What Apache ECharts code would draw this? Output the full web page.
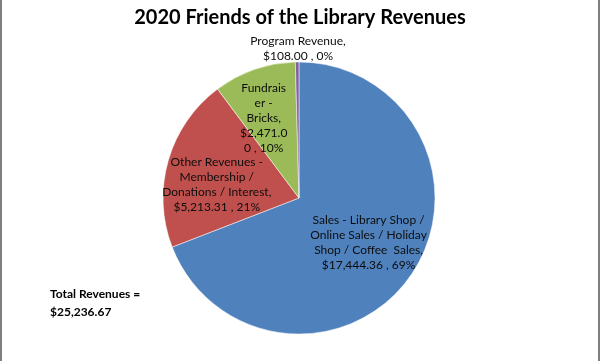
<!DOCTYPE html>
<html><head><meta charset="utf-8">
<script src="https://cdn.jsdelivr.net/npm/echarts@6/dist/echarts.min.js"></script>
<style>html,body{margin:0;padding:0;background:#fff}#c{width:600px;height:361px}</style>
</head><body><div id="c"></div>
<script>
var categories = ['Sales - Library Shop / Online Sales / Holiday Shop / Coffee  Sales',
  'Other Revenues - Membership / Donations / Interest',
  'Fundraiser - Bricks',
  'Program Revenue'];
var values = [17444.36, 5213.31, 2471.00, 108.00];
var percents = ['69%', '21%', '10%', '0%'];
var labelTexts = [
  'Sales - Library Shop /\nOnline Sales / Holiday\nShop / Coffee  Sales,\n$17,444.36 , 69%',
  'Other Revenues -\nMembership /\nDonations / Interest,\n$5,213.31 , 21%',
  'Fundrais\ner -\nBricks,\n$2,471.0\n0 , 10%',
  'Program Revenue,\n$108.00 , 0%'
];
var colors = ['#4F81BD', '#C0504D', '#9BBB59', '#8064A2'];
var totalText = 'Total Revenues =\n$25,236.67';
var labelShift = [[11, 4], [-14, 6], [-12, -13], [0, -78]];

var chart = echarts.init(document.getElementById('c'), null, {renderer: 'canvas'});
var FONT = 'Lato, "Open Sans", sans-serif';
chart.setOption({
  animation: false,
  title: [{
    text: '2020 Friends of the Library Revenues',
    left: 'center', top: 3,
    textStyle: {fontFamily: FONT, fontSize: 20, fontWeight: 'bold', color: '#000'}
  }, {
    text: totalText,
    left: 50, top: 285, padding: 0,
    textStyle: {fontFamily: FONT, fontSize: 12, fontWeight: 'bold', color: '#000', lineHeight: 18}
  }],
  graphic: [
    {type: 'rect', shape: {x: 0, y: 0, width: 2, height: 361}, style: {fill: '#7f7f7f'}},
    {type: 'rect', shape: {x: 598, y: 0, width: 2, height: 361}, style: {fill: '#7f7f7f'}}
  ],
  series: [{
    type: 'pie',
    center: [299, 198],
    radius: 136,
    startAngle: 90,
    clockwise: true,
    avoidLabelOverlap: false,
    itemStyle: {borderColor: '#ffffff', borderWidth: 0.5},
    label: {
      position: 'inside',
      fontFamily: FONT, fontSize: 12, lineHeight: 15, color: '#0d0d0d',
      align: 'center',
      formatter: function (p) { return labelTexts[p.dataIndex]; }
    },
    labelLine: {show: false},
    labelLayout: function (p) {
      return {dx: labelShift[p.dataIndex][0], dy: labelShift[p.dataIndex][1]};
    },
    emphasis: {disabled: true},
    data: categories.map(function (c, i) {
      return {name: c, value: values[i], itemStyle: {color: colors[i]}};
    })
  }]
});
</script></body></html>
